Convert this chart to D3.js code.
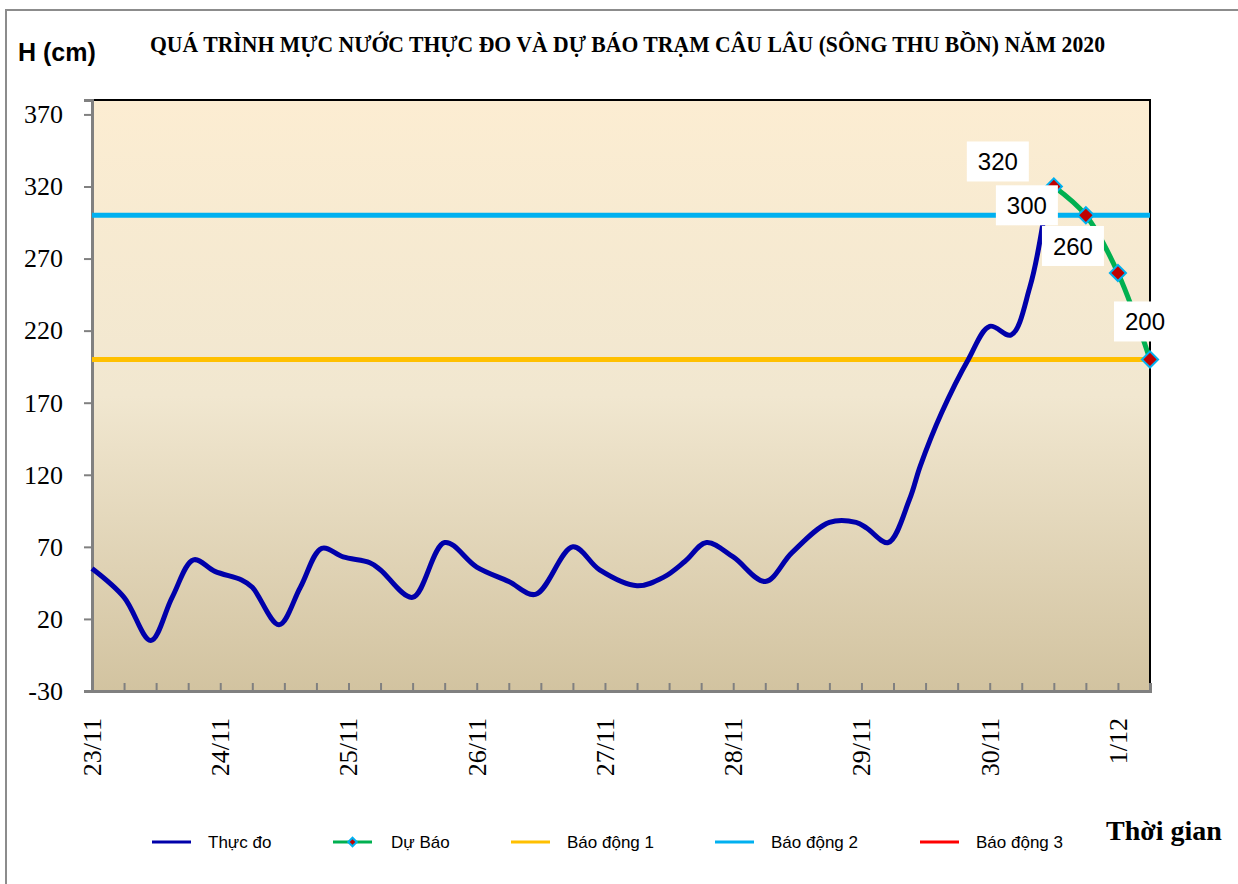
<!DOCTYPE html>
<html>
<head>
<meta charset="utf-8">
<script src="https://cdn.jsdelivr.net/npm/d3@7"></script>
<style>
    body{margin:0;background:#fff;}
    svg{display:block;}
</style>
</head>
<body>
<div id="chart"></div>
<script>
// hours counted from 23/11 00h
let obsHours = [0, 6, 11, 15, 19, 23, 28, 30, 35, 39, 43, 47, 52, 54, 60, 66, 72, 78, 83, 90,
    95, 102, 107, 111, 115, 120, 126, 131, 138, 143, 145, 149, 153, 155, 159, 164, 168, 172, 175.5, 178];
let obsValues = [55, 35, 5, 35, 61, 53, 47, 42, 16, 42, 69, 63, 59, 54, 35, 73, 56, 46, 37, 70,
    54, 43, 49, 60, 73, 63, 46, 66, 87, 87, 83, 73, 103, 126, 163, 200, 223, 217, 250, 295];

let fcHours = [180, 186, 192, 198];
let fcValues = [320, 300, 260, 200];

let alarmNames = ["Báo động 1", "Báo động 2", "Báo động 3"];
let alarmLevels = [200, 300, 400];
let alarmColors = ["#FFC000", "#00B0F0", "#FF0000"];

let dayHours = [0, 24, 48, 72, 96, 120, 144, 168, 192];
let dayLabels = ["23/11", "24/11", "25/11", "26/11", "27/11", "28/11", "29/11", "30/11", "1/12"];
let yTicks = [-30, 20, 70, 120, 170, 220, 270, 320, 370];

// label box offsets from their forecast points (layout only)
let labelOffsets = [[-56, -25], [-59, -10], [-45, -27], [-5, -38]];

let W = 1238, H = 884;
let pLeft = 92, pRight = 1150, pTop = 100, pBottom = 691;
let serif = "'Liberation Serif','Times New Roman',serif";
let sans = "'Liberation Sans',Arial,sans-serif";

let svg = d3.select("#chart").append("svg")
    .attr("width", W)
    .attr("height", H);

// outer frame
svg.append("rect")
    .attr("x", 6).attr("y", 10)
    .attr("width", W).attr("height", H)
    .attr("fill", "#fff")
    .attr("stroke", "#8c8c8c")
    .attr("stroke-width", 2);

let defs = svg.append("defs");
let grad = defs.append("linearGradient")
    .attr("id", "bg")
    .attr("x1", 0).attr("y1", 0).attr("x2", 0).attr("y2", 1);
grad.append("stop").attr("offset", "0%").attr("stop-color", "#FCEDD2");
grad.append("stop").attr("offset", "50%").attr("stop-color", "#F1E7D0");
grad.append("stop").attr("offset", "100%").attr("stop-color", "#D2C3A0");

defs.append("clipPath").attr("id", "plotClip")
    .append("rect")
    .attr("x", pLeft).attr("y", pTop)
    .attr("width", pRight - pLeft).attr("height", pBottom - pTop);

let x = d3.scaleLinear().domain([0, 198]).range([pLeft, pRight]);
let y = d3.scaleLinear().domain([-30, 380]).range([pBottom, pTop]);

svg.append("rect")
    .attr("x", pLeft).attr("y", pTop)
    .attr("width", pRight - pLeft).attr("height", pBottom - pTop)
    .attr("fill", "url(#bg)");

// top / right border
svg.append("path")
    .attr("d", "M" + pLeft + "," + pTop + "H" + pRight + "V" + pBottom)
    .attr("fill", "none")
    .attr("stroke", "#000")
    .attr("stroke-width", 2);

// y axis
let yAxis = svg.append("g")
    .attr("transform", "translate(" + pLeft + ",0)")
    .call(d3.axisLeft(y).tickValues(yTicks).tickSize(8).tickPadding(21)
        .tickFormat(function(d){ return String(d); }));
yAxis.select(".domain").attr("stroke", "#808080").attr("stroke-width", 3);
yAxis.selectAll(".tick line").attr("stroke", "#808080").attr("stroke-width", 2);
yAxis.selectAll(".tick text")
    .attr("font-family", serif)
    .attr("font-size", 26)
    .attr("fill", "#000");

// x axis: ticks every 6 hours, inward
let xAxis = svg.append("g")
    .attr("transform", "translate(0," + pBottom + ")")
    .call(d3.axisBottom(x).tickValues(d3.range(0, 199, 6)).tickSize(-8).tickFormat(""));
xAxis.select(".domain").attr("stroke", "#808080").attr("stroke-width", 3);
xAxis.selectAll(".tick line").attr("stroke", "#808080").attr("stroke-width", 2);

svg.append("g").selectAll("text")
    .data(dayHours)
    .enter().append("text")
    .attr("transform", function(d){ return "translate(" + (x(d) + 9) + ",718) rotate(-90)"; })
    .attr("text-anchor", "end")
    .attr("font-family", serif)
    .attr("font-size", 26)
    .text(function(d, i){ return dayLabels[i]; });

let plot = svg.append("g").attr("clip-path", "url(#plotClip)");

// alarm levels
plot.selectAll(".alarm")
    .data(alarmLevels)
    .enter().append("line")
    .attr("class", "alarm")
    .attr("x1", pLeft).attr("x2", pRight)
    .attr("y1", function(d){ return y(d); })
    .attr("y2", function(d){ return y(d); })
    .attr("stroke", function(d, i){ return alarmColors[i]; })
    .attr("stroke-width", 5);

let line = d3.line()
    .x(function(d){ return x(d[0]); })
    .y(function(d){ return y(d[1]); })
    .curve(d3.curveCatmullRom.alpha(0.5));

svg.append("path")
    .datum(d3.zip(obsHours, obsValues))
    .attr("d", line)
    .attr("fill", "none")
    .attr("stroke", "#0000AA")
    .attr("stroke-width", 5)
    .attr("stroke-linejoin", "round");

let fcData = d3.zip(fcHours, fcValues);

svg.append("path")
    .datum(fcData)
    .attr("d", line)
    .attr("fill", "none")
    .attr("stroke", "#00B050")
    .attr("stroke-width", 5);

let diamond = d3.symbol().type(d3.symbolSquare).size(130);

svg.selectAll(".fc-dot")
    .data(fcData)
    .enter().append("path")
    .attr("class", "fc-dot")
    .attr("d", diamond)
    .attr("transform", function(d){ return "translate(" + x(d[0]) + "," + y(d[1]) + ") rotate(45)"; })
    .attr("fill", "#C00000")
    .attr("stroke", "#00B0F0")
    .attr("stroke-width", 2);

// data labels
let labels = svg.selectAll(".fc-label")
    .data(fcData)
    .enter().append("g")
    .attr("class", "fc-label")
    .attr("transform", function(d, i){
        return "translate(" + (x(d[0]) + labelOffsets[i][0]) + "," + (y(d[1]) + labelOffsets[i][1]) + ")";
    });
labels.append("rect")
    .attr("x", -31).attr("y", -20)
    .attr("width", 62).attr("height", 40)
    .attr("fill", "#fff");
labels.append("text")
    .attr("text-anchor", "middle")
    .attr("y", 9)
    .attr("font-family", sans)
    .attr("font-size", 24)
    .text(function(d){ return d[1]; });

// titles
svg.append("text")
    .attr("x", 150).attr("y", 52)
    .attr("font-family", serif)
    .attr("font-weight", "bold")
    .attr("font-size", 23)
    .attr("textLength", 955)
    .attr("lengthAdjust", "spacingAndGlyphs")
    .text("QUÁ TRÌNH MỰC NƯỚC THỰC ĐO VÀ DỰ BÁO TRẠM  CÂU LÂU (SÔNG THU BỒN) NĂM  2020");

svg.append("text")
    .attr("x", 18).attr("y", 61)
    .attr("font-family", sans)
    .attr("font-weight", "bold")
    .attr("font-size", 25)
    .text("H (cm)");

svg.append("text")
    .attr("x", 1106).attr("y", 840)
    .attr("font-family", serif)
    .attr("font-weight", "bold")
    .attr("font-size", 28)
    .text("Thời gian");

// legend
let legendNames = ["Thực đo", "Dự Báo"].concat(alarmNames);
let legendColors = ["#0000AA", "#00B050"].concat(alarmColors);
let legendX = [152, 333, 511, 715, 920];

let legend = svg.selectAll(".legend")
    .data(legendNames)
    .enter().append("g")
    .attr("class", "legend")
    .attr("transform", function(d, i){ return "translate(" + legendX[i] + ",842)"; });
legend.append("line")
    .attr("x1", 0).attr("x2", 39)
    .attr("stroke", function(d, i){ return legendColors[i]; })
    .attr("stroke-width", 3);
legend.filter(function(d, i){ return i === 1; })
    .append("path")
    .attr("d", d3.symbol().type(d3.symbolSquare).size(36))
    .attr("transform", "translate(19.5,0) rotate(45)")
    .attr("fill", "#C00000")
    .attr("stroke", "#00B0F0")
    .attr("stroke-width", 2);
legend.append("text")
    .attr("x", function(d, i){ return i === 1 ? 58 : 56; })
    .attr("y", 6)
    .attr("font-family", sans)
    .attr("font-size", 17)
    .text(function(d){ return d; });
</script>
</body>
</html>
